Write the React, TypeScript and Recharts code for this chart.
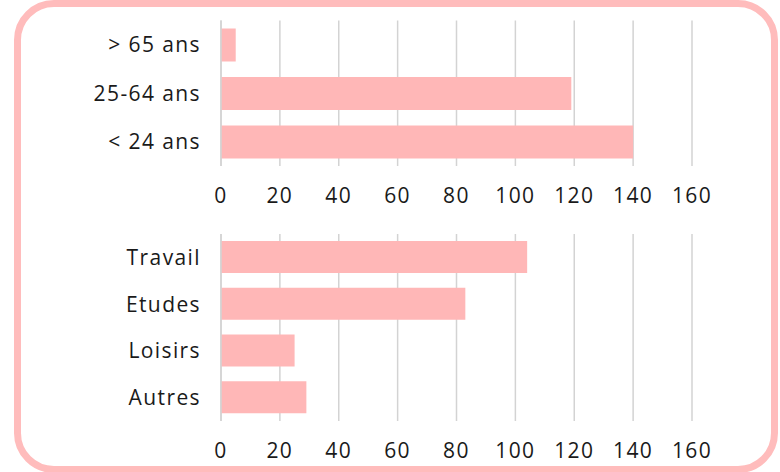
import React from 'react';
import { BarChart, Bar, XAxis, YAxis, CartesianGrid } from 'recharts';

// Age groups (top chart)
const ageGroups = ['> 65 ans', '25-64 ans', '< 24 ans'];
const ageCounts = [5, 119, 140];

// Reasons (bottom chart)
const reasons = ['Travail', 'Etudes', 'Loisirs', 'Autres'];
const reasonCounts = [104, 83, 25, 29];

const xTicks = [0, 20, 40, 60, 80, 100, 120, 140, 160];

const BAR_COLOR = '#ffb7b7';
const GRID_COLOR = '#d3d3d3';
const FONT = '"Open Sans", sans-serif';
const tickStyle = { fontSize: 21, fill: '#1a1a1a', fontFamily: FONT, letterSpacing: 1.4 };

const ageData = ageGroups.map((name, i) => ({ name, value: ageCounts[i] }));
const reasonData = reasons.map((name, i) => ({ name, value: reasonCounts[i] }));

function Panel({ data, height, top, xHeight, barSize }: { data: { name: string; value: number }[]; height: number; top: number; xHeight: number; barSize: number }) {
    return (
        <BarChart
            width={780}
            height={height}
            data={data}
            layout="vertical"
            margin={{ top, right: 88, left: 0, bottom: 0 }}
        >
            <CartesianGrid horizontal={false} stroke={GRID_COLOR} strokeWidth={1.5} />
            <XAxis
                type="number"
                domain={[0, 160]}
                ticks={xTicks}
                interval={0}
                height={xHeight}
                axisLine={false}
                tickLine={false}
                tickMargin={16}
                tick={tickStyle}
            />
            <YAxis
                type="category"
                dataKey="name"
                width={221}
                axisLine={{ stroke: GRID_COLOR, strokeWidth: 1.5 }}
                tickLine={false}
                tickMargin={14}
                tick={tickStyle}
            />
            <Bar dataKey="value" fill={BAR_COLOR} barSize={barSize} isAnimationActive={false} />
        </BarChart>
    );
}

export default function App() {
    return (
        <div style={{ position: 'absolute', left: 0, top: 0, width: 780, height: 472, background: '#fff', overflow: 'hidden' }}>
            <div
                style={{
                    position: 'absolute',
                    left: 14,
                    top: 0,
                    width: 764,
                    height: 473,
                    boxSizing: 'border-box',
                    border: '7px solid #ffbcbc',
                    borderRadius: 40,
                }}
            />
            <div style={{ position: 'absolute', left: 0, top: 0 }}>
                <Panel data={ageData} height={220} top={20.5} xHeight={54} barSize={33} />
            </div>
            <div style={{ position: 'absolute', left: 0, top: 214 }}>
                <Panel data={reasonData} height={260} top={20} xHeight={53} barSize={32} />
            </div>
        </div>
    );
}
